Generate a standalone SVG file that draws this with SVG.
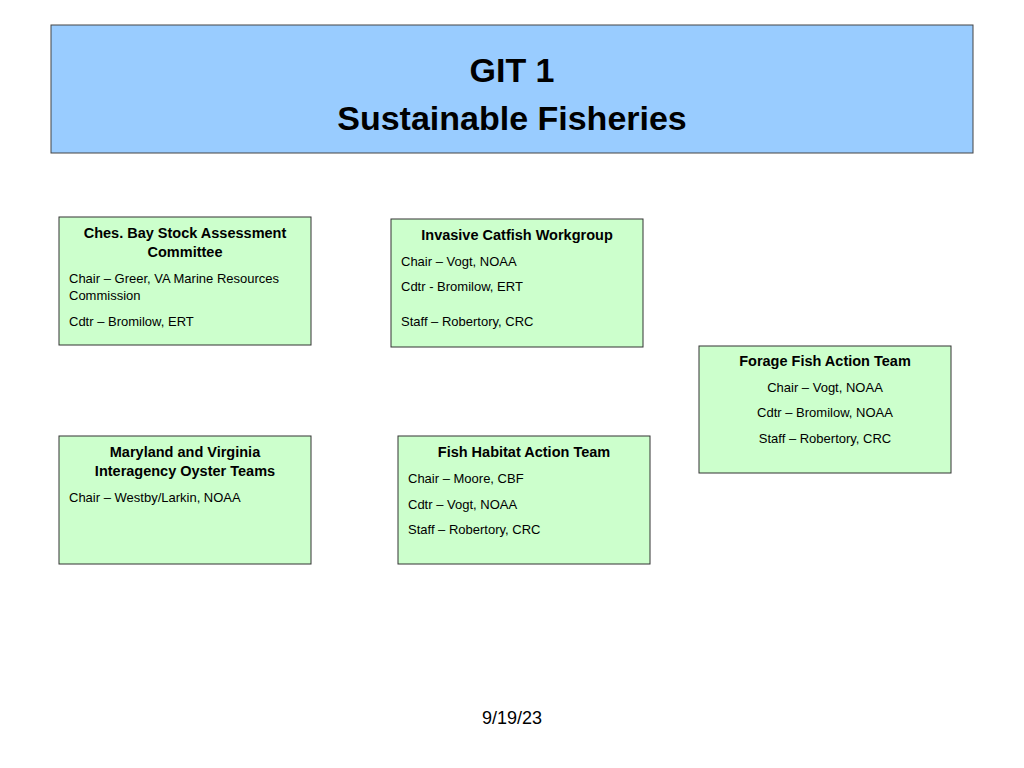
<svg xmlns="http://www.w3.org/2000/svg" width="1024" height="768" viewBox="0 0 1024 768">
<style>
.box{fill:#ccffcc;stroke:#333;stroke-width:1}
text{font-family:"Liberation Sans",Arial,sans-serif;fill:#000}
.t{font-size:14.5px;font-weight:bold;text-anchor:middle}
.b{font-size:13px}
.c{font-size:13px;text-anchor:middle}
.h{font-size:34px;font-weight:bold;text-anchor:middle}
</style>
<rect width="1024" height="768" fill="#fff"/>
<g id="header">
<rect x="51" y="25" width="922" height="128" fill="#99ccff" stroke="#444"/>
<text class="h" x="512" y="82">GIT 1</text>
<text class="h" x="512" y="130">Sustainable Fisheries</text>
</g>
<g id="stock">
<rect class="box" x="59" y="217" width="252" height="128"/>
<text class="t" x="185" y="238">Ches. Bay Stock Assessment</text>
<text class="t" x="185" y="257">Committee</text>
<text class="b" x="69" y="283">Chair – Greer, VA Marine Resources</text>
<text class="b" x="69" y="300">Commission</text>
<text class="b" x="69" y="326">Cdtr – Bromilow, ERT</text>
</g>
<g id="catfish">
<rect class="box" x="391" y="219" width="252" height="128"/>
<text class="t" x="517" y="240">Invasive Catfish Workgroup</text>
<text class="b" x="401" y="266">Chair – Vogt, NOAA</text>
<text class="b" x="401" y="291">Cdtr - Bromilow, ERT</text>
<text class="b" x="401" y="326">Staff – Robertory, CRC</text>
</g>
<g id="forage">
<rect class="box" x="699" y="346" width="252" height="127"/>
<text class="t" x="825" y="366">Forage Fish Action Team</text>
<text class="c" x="825" y="392">Chair – Vogt, NOAA</text>
<text class="c" x="825" y="417">Cdtr – Bromilow, NOAA</text>
<text class="c" x="825" y="443">Staff – Robertory, CRC</text>
</g>
<g id="oyster">
<rect class="box" x="59" y="436" width="252" height="128"/>
<text class="t" x="185" y="457">Maryland and Virginia</text>
<text class="t" x="185" y="476">Interagency Oyster Teams</text>
<text class="b" x="69" y="502">Chair – Westby/Larkin, NOAA</text>
</g>
<g id="habitat">
<rect class="box" x="398" y="436" width="252" height="128"/>
<text class="t" x="524" y="457">Fish Habitat Action Team</text>
<text class="b" x="408" y="483">Chair – Moore, CBF</text>
<text class="b" x="408" y="509">Cdtr – Vogt, NOAA</text>
<text class="b" x="408" y="534">Staff – Robertory, CRC</text>
</g>
<g id="connectors"></g>
<text x="512" y="724" font-size="18" text-anchor="middle">9/19/23</text>
</svg>
